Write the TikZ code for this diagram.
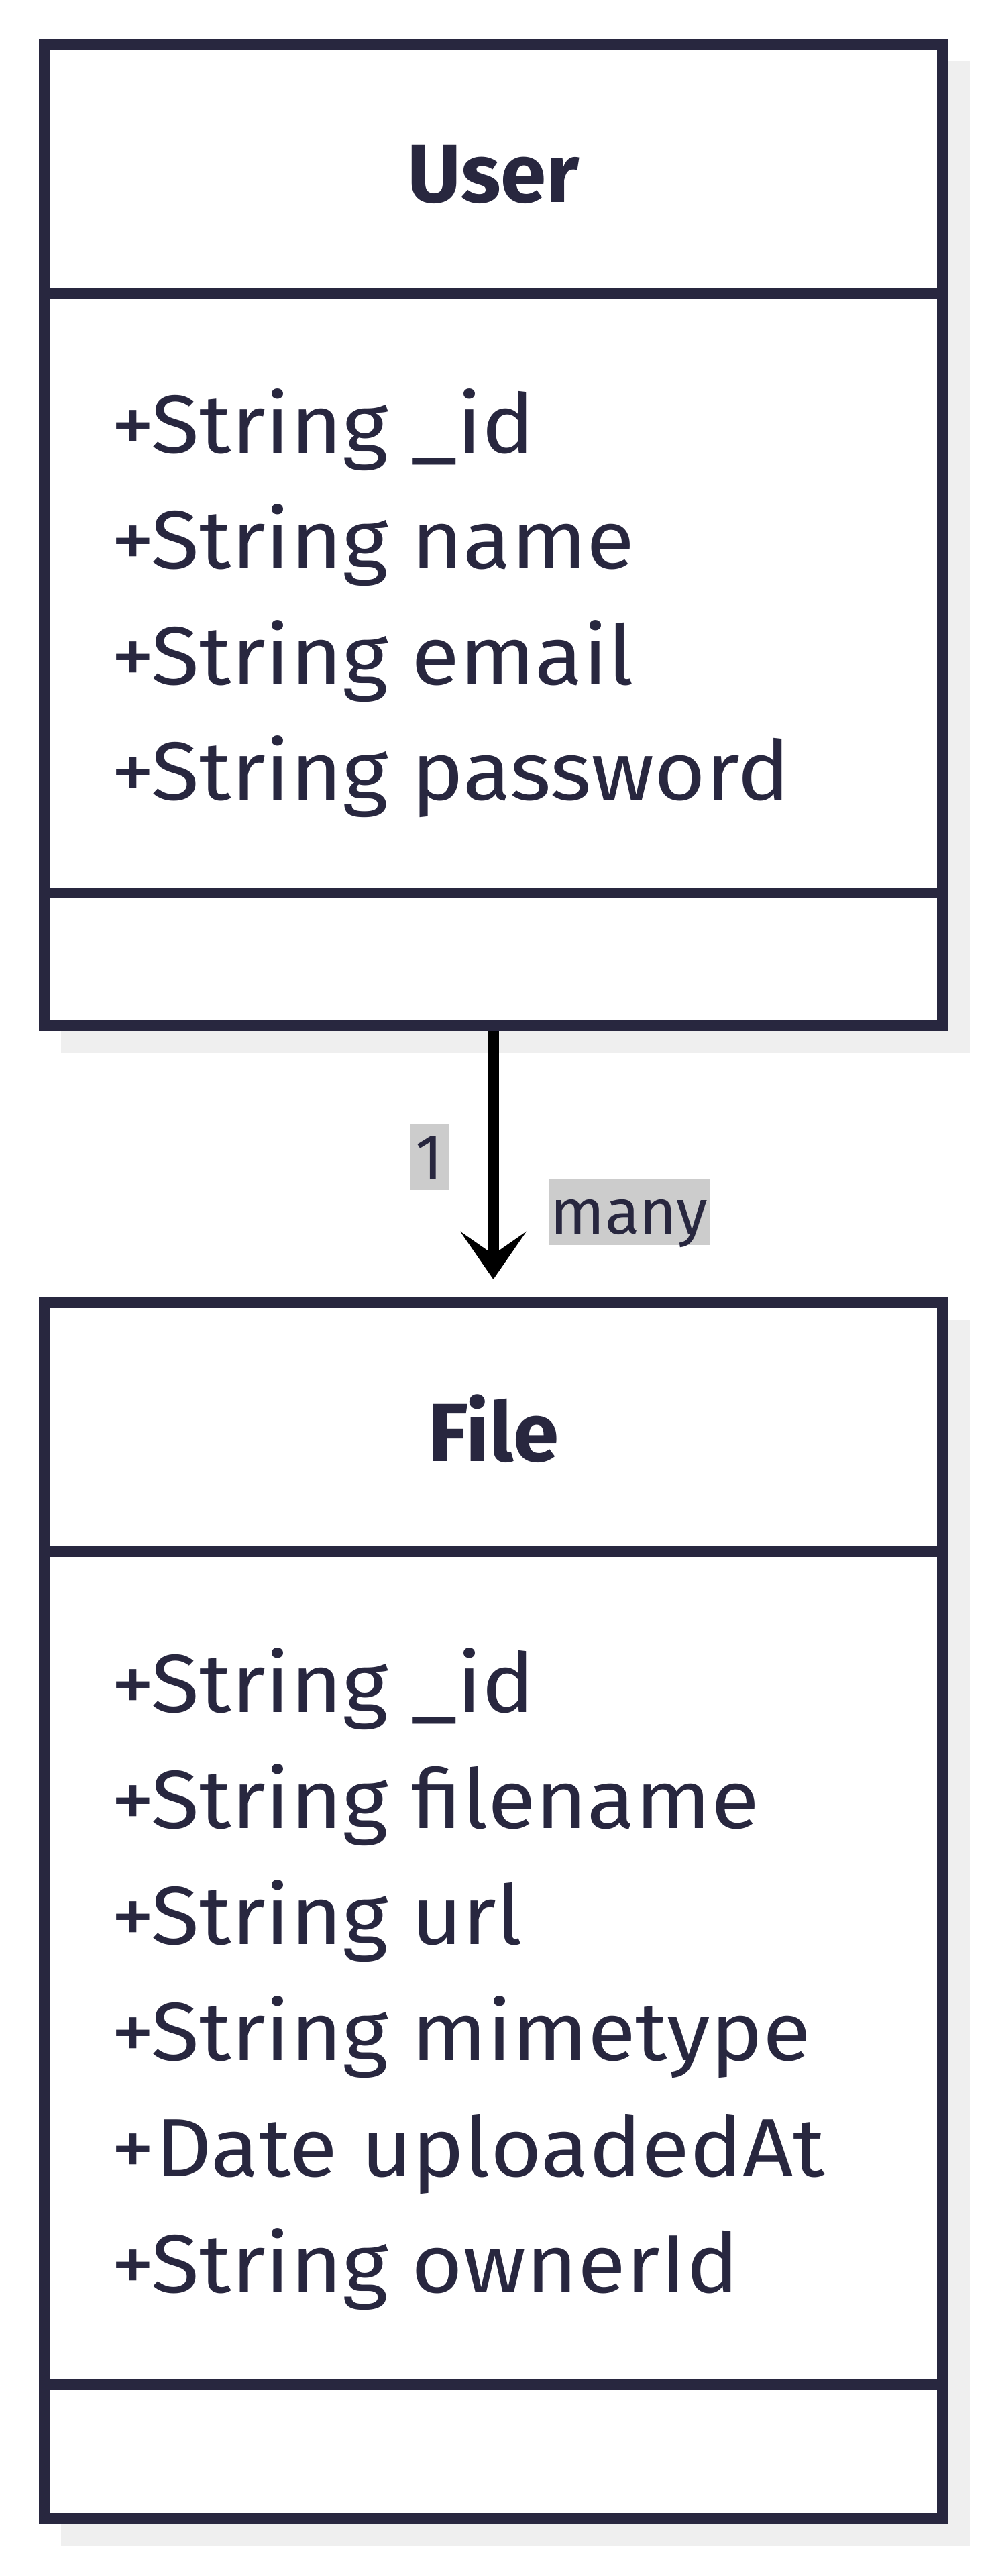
\documentclass[tikz,border=0pt]{standalone}
\usepackage{fontspec}
\setmainfont{Fira Sans}
\newfontfamily\attrfamily{Fira Sans}[FakeStretch=1.07]
\usetikzlibrary{arrows.meta}

\definecolor{ink}{HTML}{28273F}
\definecolor{shadowgrey}{HTML}{EFEFEF}
\definecolor{lblgrey}{HTML}{CCCCCC}

\newcommand{\attrfont}{\attrfamily\fontsize{35}{42}\selectfont}
\newcommand{\titlefont}{\fontsize{35}{42}\selectfont\bfseries}
\newcommand{\lblfont}{\fontsize{27}{32}\selectfont}

\tikzset{
  classbox/.style={draw=ink, line width=1.6mm, fill=white, inner sep=0pt, minimum width=13.39cm},
  divider/.style={draw=ink, line width=1.6mm},
  title/.style={anchor=base, text=ink, font=\titlefont},
  attr/.style={anchor=base west, text=ink, font=\attrfont},
  lbl/.style={fill=lblgrey, text=ink, font=\lblfont, inner sep=0pt, text height=8.3mm, text depth=1.6mm},
}

\begin{document}
\begin{tikzpicture}
	\useasboundingbox (0,0) rectangle (14.79,-38.40);
	% shadows
	\fill [shadowgrey] (0.91,-0.91) rectangle (14.46,-15.70);
	\fill [shadowgrey] (0.91,-19.67) rectangle (14.46,-37.95);
	%
	\node (user) [classbox, minimum height=14.63cm] at (7.355,-7.975) {};
	\node (file) [classbox, minimum height=18.12cm] at (7.355,-28.48) {};
	%
	\draw [divider] (0.66,-4.38) -- (14.05,-4.38);
	\draw [divider] (0.66,-13.31) -- (14.05,-13.31);
	\draw [divider] (0.66,-23.13) -- (14.05,-23.13);
	\draw [divider] (0.66,-35.55) -- (14.05,-35.55);
	%
	\node (usertitle) [title] at (7.355,-3.02) {User};
	\node (uid) [attr] at (1.53,-6.75) {+String \_id};
	\node (uname) [attr] at (1.53,-8.475) {+String name};
	\node (uemail) [attr] at (1.53,-10.20) {+String email};
	\node (upass) [attr] at (1.53,-11.925) {+String password};
	%
	\node (filetitle) [title] at (7.355,-21.78) {File};
	\node (fid) [attr] at (1.53,-25.52) {+String \_id};
	\node (fname) [attr] at (1.53,-27.25) {+String filename};
	\node (furl) [attr] at (1.53,-28.98) {+String url};
	\node (fmime) [attr] at (1.53,-30.71) {+String mimetype};
	\node (fdate) [attr] at (1.53,-32.44) {+Date uploadedAt};
	\node (fowner) [attr] at (1.53,-34.17) {+String ownerId};
	%
	\draw [black, line width=1.6mm, -{Stealth[length=7.1mm, width=9.8mm, inset=3.4mm]}, shorten >=2.7mm] (user.south) -- (file.north);
	\node (one) [lbl, minimum width=5.7mm] at (6.40,-17.24) {1};
	\node (many) [lbl, minimum width=24mm] at (9.38,-18.06) {many};
\end{tikzpicture}
\end{document}
